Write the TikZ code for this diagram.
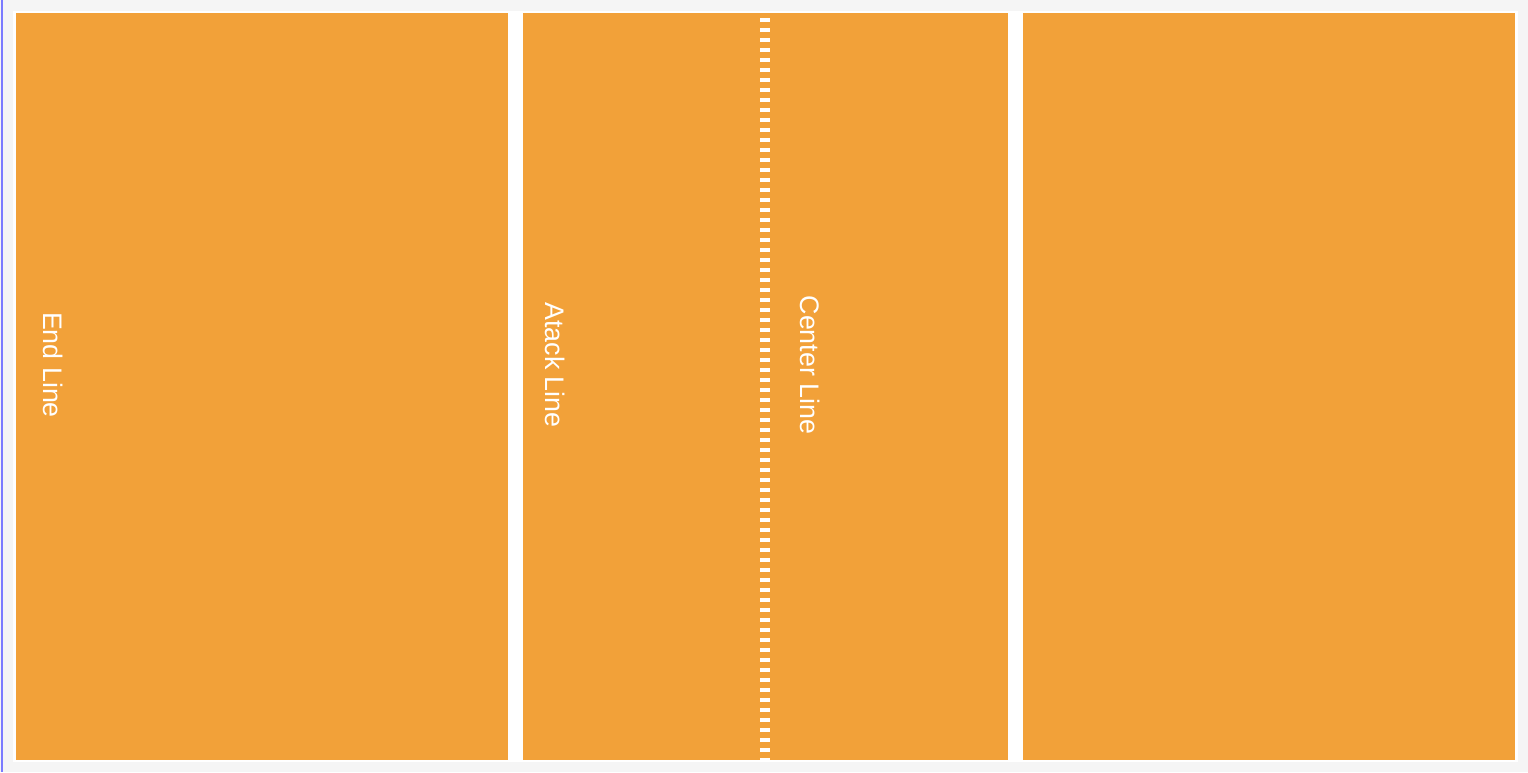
\documentclass[tikz,border=0pt]{standalone}
\usepackage{fontspec}
\setmainfont{Liberation Sans}
\definecolor{courtbg}{HTML}{F5F5F5}
\definecolor{court}{HTML}{F2A139}
\definecolor{edgeblue}{HTML}{7B7BFF}
\tikzset{
  zone/.style={fill=court, draw=none},
  lbl/.style={text=white, font=\fontsize{26.8}{30}\selectfont, rotate=-90, inner sep=0pt, anchor=center},
}
\begin{document}
\begin{tikzpicture}[x=1pt,y=-1pt]
  \useasboundingbox (0,0) rectangle (1528,772);
  \fill[courtbg] (0,0) rectangle (1528,772);
  \fill[white] (13,11) rectangle (1518,762);
  \fill[edgeblue] (0.5,0) rectangle (2.5,772);
  % zones
  \path[zone] (16,13) rectangle (508,760);
  \path[zone] (523,13) rectangle (1008,760);
  \path[zone] (1023,13) rectangle (1515,760);
  % center line
  \draw[white, line width=10pt, dash pattern=on 4pt off 6pt, dash phase=5pt] (765,13) -- (765,760);
  % labels
  \node[lbl] (endline) at (53.5,365) {End Line};
  \node[lbl] (atackline) at (555.5,365) {Atack Line};
  \node[lbl] (centerline) at (810.5,365) {Center Line};
\end{tikzpicture}
\end{document}
